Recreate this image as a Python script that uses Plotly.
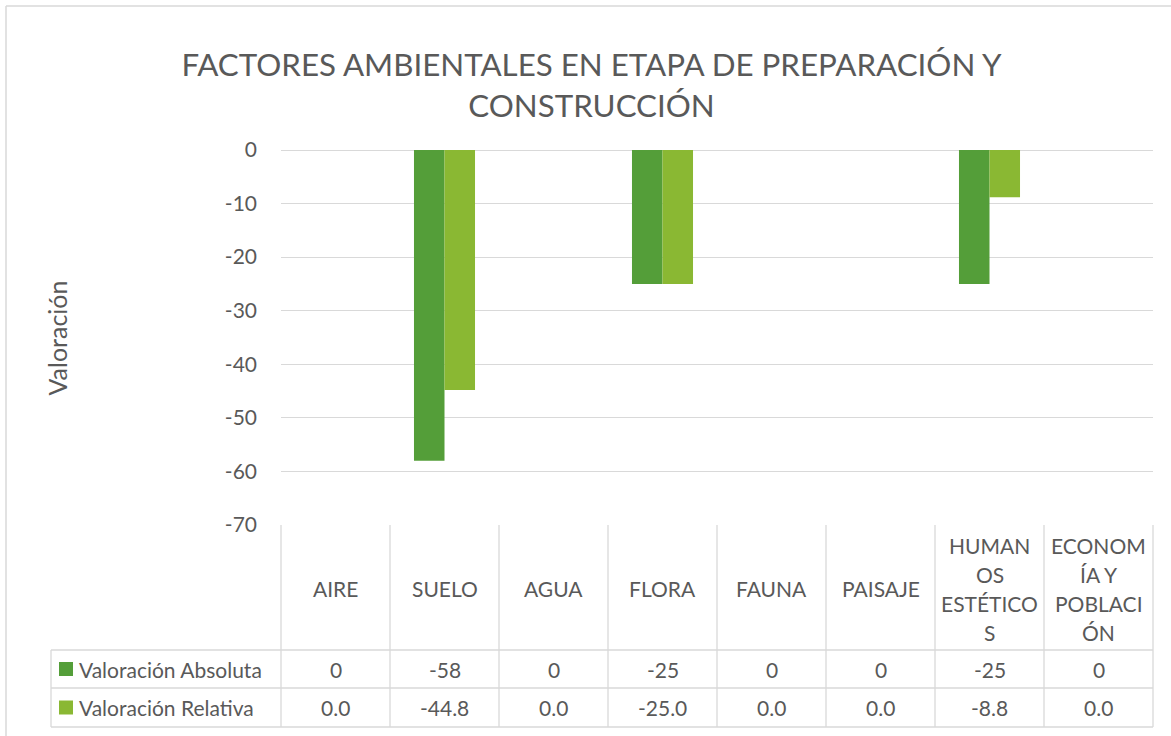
import plotly.graph_objects as go

# ---- data ----
categories = ["AIRE", "SUELO", "AGUA", "FLORA", "FAUNA", "PAISAJE",
              "HUMANOS ESTÉTICOS", "ECONOMÍA Y POBLACIÓN"]
header_labels = ["AIRE", "SUELO", "AGUA", "FLORA", "FAUNA", "PAISAJE",
                 "HUMAN|OS|ESTÉTICO|S", "ECONOM|ÍA Y|POBLACI|ÓN"]
series_names = ["Valoración Absoluta", "Valoración Relativa"]
valoracion_absoluta = [0, -58, 0, -25, 0, 0, -25, 0]
valoracion_relativa = [0.0, -44.8, 0.0, -25.0, 0.0, 0.0, -8.8, 0.0]
y_ticks = [0, -10, -20, -30, -40, -50, -60, -70]

title_text = "FACTORES AMBIENTALES EN ETAPA DE PREPARACIÓN Y<br>CONSTRUCCIÓN"
y_title = "Valoración"

# ---- style ----
W, H = 1171, 736
L, R, T, B = 281, 1153, 150, 525
FONT = "Lato, 'Open Sans', sans-serif"
TXT = "#595959"
GRID = "#D9D9D9"
colors = ["#549E39", "#8AB833"]
FS = 21


def px(x):
    return (x - L) / (R - L)


def py(y):
    return (B - y) / (B - T)


fig = go.Figure()
for name, vals, c in zip(series_names, [valoracion_absoluta, valoracion_relativa], colors):
    fig.add_trace(go.Bar(x=categories, y=vals, name=name, marker_color=c,
                         marker_line=dict(width=0)))

shapes = []
annotations = []
n = len(categories)

line_style = dict(color=GRID, width=1.3)
for i in range(n + 1):
    shapes.append(dict(type="line", xref="x domain", yref="paper",
                       x0=i / n, x1=i / n, y0=py(B), y1=py(727), line=line_style))
shapes.append(dict(type="line", xref="paper", yref="paper",
                   x0=px(51), x1=px(51), y0=py(650), y1=py(727), line=line_style))
for yy in [650, 688, 727]:
    shapes.append(dict(type="line", xref="paper", yref="paper",
                       x0=px(51), x1=1, y0=py(yy), y1=py(yy), line=line_style))

# outer chart border (top & left visible)
shapes.append(dict(type="line", xref="paper", yref="paper",
                   x0=px(6), x1=px(W + 5), y0=py(6), y1=py(6), line=dict(color=GRID, width=1.5)))
shapes.append(dict(type="line", xref="paper", yref="paper",
                   x0=px(6), x1=px(6), y0=py(6), y1=py(H + 5), line=dict(color=GRID, width=1.5)))

# header labels
header_center = 588.5
line_h = 29
for cat, lab in zip(categories, header_labels):
    parts = lab.split("|")
    k = len(parts)
    for j, p in enumerate(parts):
        yc = header_center + (j - (k - 1) / 2) * line_h
        annotations.append(dict(x=cat, xref="x", y=py(yc), yref="paper", text=p,
                                showarrow=False, xanchor="center", yanchor="middle",
                                font=dict(family=FONT, size=FS, color=TXT)))

# value rows
row_centers = [669, 707.5]
fmts = ["{:.0f}", "{:.1f}"]
for vals, yc, f, c, nm in zip([valoracion_absoluta, valoracion_relativa], row_centers, fmts, colors, series_names):
    for cat, v in zip(categories, vals):
        annotations.append(dict(x=cat, xref="x", y=py(yc), yref="paper", text=f.format(v),
                                showarrow=False, xanchor="center", yanchor="middle",
                                font=dict(family=FONT, size=FS, color=TXT)))
    shapes.append(dict(type="rect", xref="paper", yref="paper",
                       x0=px(59), x1=px(73), y0=py(yc - 7), y1=py(yc + 7),
                       fillcolor=c, line=dict(width=0)))
    annotations.append(dict(x=px(77), xref="paper", y=py(yc), yref="paper", text=nm,
                            showarrow=False, xanchor="left", yanchor="middle",
                            font=dict(family=FONT, size=FS, color=TXT)))

# y axis title
annotations.append(dict(x=px(56), xref="paper", y=py(338.5), yref="paper", text=y_title,
                        textangle=-90, showarrow=False, xanchor="center", yanchor="middle",
                        font=dict(family=FONT, size=25, color=TXT)))

fig.update_layout(
    width=W, height=H, autosize=False,
    margin=dict(l=L, r=W - R, t=T, b=H - B, pad=0),
    paper_bgcolor="white", plot_bgcolor="white",
    title=dict(text=title_text, x=591.5 / W, xref="container", xanchor="center",
               y=1 - 76 / H, yref="container", yanchor="middle",
               font=dict(family=FONT, size=31.3, color=TXT)),
    barmode="group", bargap=0.44, bargroupgap=0,
    showlegend=False,
    shapes=shapes, annotations=annotations,
    xaxis=dict(showticklabels=False, showgrid=False, showline=False, zeroline=False,
               range=[-0.5, n - 0.5], fixedrange=True),
    yaxis=dict(range=[-70, 0], tickvals=y_ticks, ticktext=[str(v) for v in y_ticks],
               showgrid=True, gridcolor=GRID, gridwidth=1.3,
               zeroline=True, zerolinecolor=GRID, zerolinewidth=1.3, showline=False,
               ticks="", ticklabelstandoff=23,
               tickfont=dict(family=FONT, size=FS, color=TXT)),
)

fig.write_html("out.html", config={"displayModeBar": False},
               post_script="document.body.style.margin='0px';")
